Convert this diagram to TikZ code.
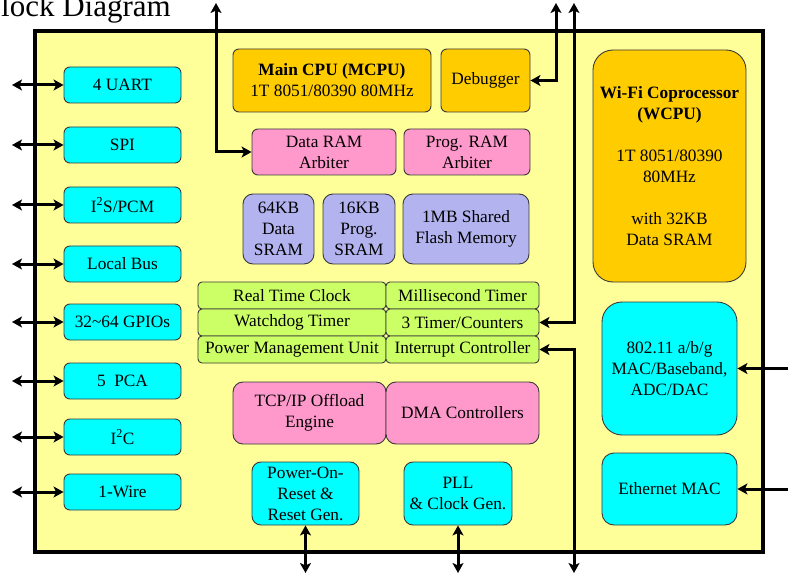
\documentclass[tikz,border=0pt]{standalone}
\usepackage{fontspec}
\setmainfont{Liberation Serif}
\usetikzlibrary{arrows.meta}
\definecolor{chipyellow}{HTML}{FFFF99}
\definecolor{ioCyan}{HTML}{00FFFF}
\definecolor{cpuOrange}{HTML}{FFCC00}
\definecolor{arbPink}{HTML}{FF99CC}
\definecolor{memLav}{HTML}{B3B3F0}
\definecolor{timGreen}{HTML}{CCFF66}
\definecolor{edge}{HTML}{3A3A3A}
\begin{document}
\begin{tikzpicture}[x=1pt,y=-1pt,
  blk/.style={draw=edge, line width=0.9pt, rounded corners=6pt, align=center, inner sep=0pt,
    font=\fontsize{17.3}{21}\selectfont},
  io/.style={blk, fill=ioCyan, minimum width=117pt, minimum height=36pt},
  cpu/.style={blk, fill=cpuOrange},
  arb/.style={blk, fill=arbPink},
  mem/.style={blk, fill=memLav, rounded corners=10pt},
  tim/.style={blk, fill=timGreen, rounded corners=4pt, minimum height=27pt},
  conn/.style={line width=3pt, {Stealth[length=10pt,width=11pt,inset=2.5pt]}-{Stealth[length=10pt,width=11pt,inset=2.5pt]}},
  connin/.style={line width=3pt, {Stealth[length=10pt,width=11pt,inset=2.5pt]}-}
]
\useasboundingbox (0,0) rectangle (788,575);
\fill[white] (0,0) rectangle (788,575);

\node[anchor=base west, inner sep=0pt, font=\fontsize{31}{31}\selectfont] (title) at (1,17) {lock Diagram};

% chip outline
\draw[line width=4pt, fill=chipyellow] (35,31) rectangle (763,552);

% left peripherals
\node[io] (uart) at (122.5,85) {4 UART};
\node[io] (spi) at (122.5,145) {SPI};
\node[io] (i2s) at (122.5,205) {I\textsuperscript{2}S/PCM};
\node[io] (lbus) at (122.5,264) {Local Bus};
\node[io] (gpio) at (122.5,322) {32\textasciitilde 64 GPIOs};
\node[io] (pca) at (122.5,381) {5\ \ PCA};
\node[io] (i2c) at (122.5,437) {I\textsuperscript{2}C};
\node[io] (wire) at (122.5,492) {1-Wire};

% CPU
\node[cpu, minimum width=198pt, minimum height=63pt] (mcpu) at (332,80.5) {\textbf{Main CPU (MCPU)}\\1T 8051/80390 80MHz};
\node[cpu, minimum width=89pt, minimum height=63pt] (dbg) at (485.5,80.5) {Debugger};
\node[arb, minimum width=144pt, minimum height=46pt] (dra) at (324,152) {Data RAM\\Arbiter};
\node[arb, minimum width=126pt, minimum height=46pt] (pra) at (467,152) {Prog. RAM\\Arbiter};

% memories
\node[mem, minimum width=71pt, minimum height=70pt] (dsram) at (278.5,229) {64KB\\Data\\SRAM};
\node[mem, minimum width=72pt, minimum height=70pt] (psram) at (359,229) {16KB\\Prog.\\SRAM};
\node[mem, minimum width=126pt, minimum height=70pt] (flash) at (466,229) {1MB Shared\\Flash Memory};

% timers grid
\node[tim, minimum width=188pt] (rtc) at (292,295.5) {Real Time Clock};
\node[tim, minimum width=153pt] (mst) at (462.5,295.5) {Millisecond Timer};
\node[tim, minimum width=188pt] (wdt) at (292,322.5) {Watchdog Timer};
\node[tim, minimum width=153pt] (tc) at (462.5,322.5) {3 Timer/Counters};
\node[tim, minimum width=188pt] (pmu) at (292,349.5) {Power Management Unit};
\node[tim, minimum width=153pt] (ic) at (462.5,349.5) {Interrupt Controller};

% offload
\node[arb, rounded corners=10pt, minimum width=153pt, minimum height=62pt] (tcp) at (309.5,413) {TCP/IP Offload\\Engine};
\node[arb, rounded corners=10pt, minimum width=153pt, minimum height=62pt] (dma) at (462.5,413) {DMA Controllers};

% reset / clock
\node[io, rounded corners=9pt, minimum width=107pt, minimum height=63pt] (por) at (305.5,493.5) {Power-On-\\Reset \&\\Reset Gen.};
\node[io, rounded corners=9pt, minimum width=108pt, minimum height=63pt] (pll) at (458,493.5) {PLL\\\& Clock Gen.};

% right side
\node[cpu, rounded corners=20pt, minimum width=153pt, minimum height=232pt] (wcpu) at (669.5,166) {\textbf{Wi-Fi Coprocessor}\\\textbf{(WCPU)}\\[21pt]1T 8051/80390\\80MHz\\[21pt]with 32KB\\Data SRAM};
\node[io, rounded corners=20pt, minimum width=135pt, minimum height=133pt] (wlan) at (669.5,368.5) {802.11 a/b/g\\MAC/Baseband,\\ADC/DAC};
\node[io, rounded corners=12pt, minimum width=135pt, minimum height=72pt] (eth) at (669.5,489) {Ethernet MAC};

% free ends
\coordinate (lx) at (12,0);
\coordinate (t1) at (216,3);
\coordinate (t2) at (556,3);
\coordinate (t3) at (574,3);
\coordinate (b1) at (0,573);
\coordinate (b3) at (574,573);
\coordinate (rx) at (788,0);

% left arrows
\foreach \n in {uart,spi,i2s,lbus,gpio,pca,i2c,wire}
  \draw[conn] (lx |- \n.west) -- (\n.west);

% top arrows
\draw[conn] (t1) |- (dra.west);
\draw[conn] (t2) |- (dbg.east);
\draw[conn] (t3) |- (tc.east);
\draw[conn] (ic.east) -| (b3);

% bottom arrows
\draw[conn] (por.south) -- (por.south |- b1);
\draw[conn] (pll.south) -- (pll.south |- b1);

% right arrows
\draw[connin] (wlan.east) -- (rx |- wlan.east);
\draw[connin] (eth.east) -- (rx |- eth.east);
\end{tikzpicture}
\end{document}
